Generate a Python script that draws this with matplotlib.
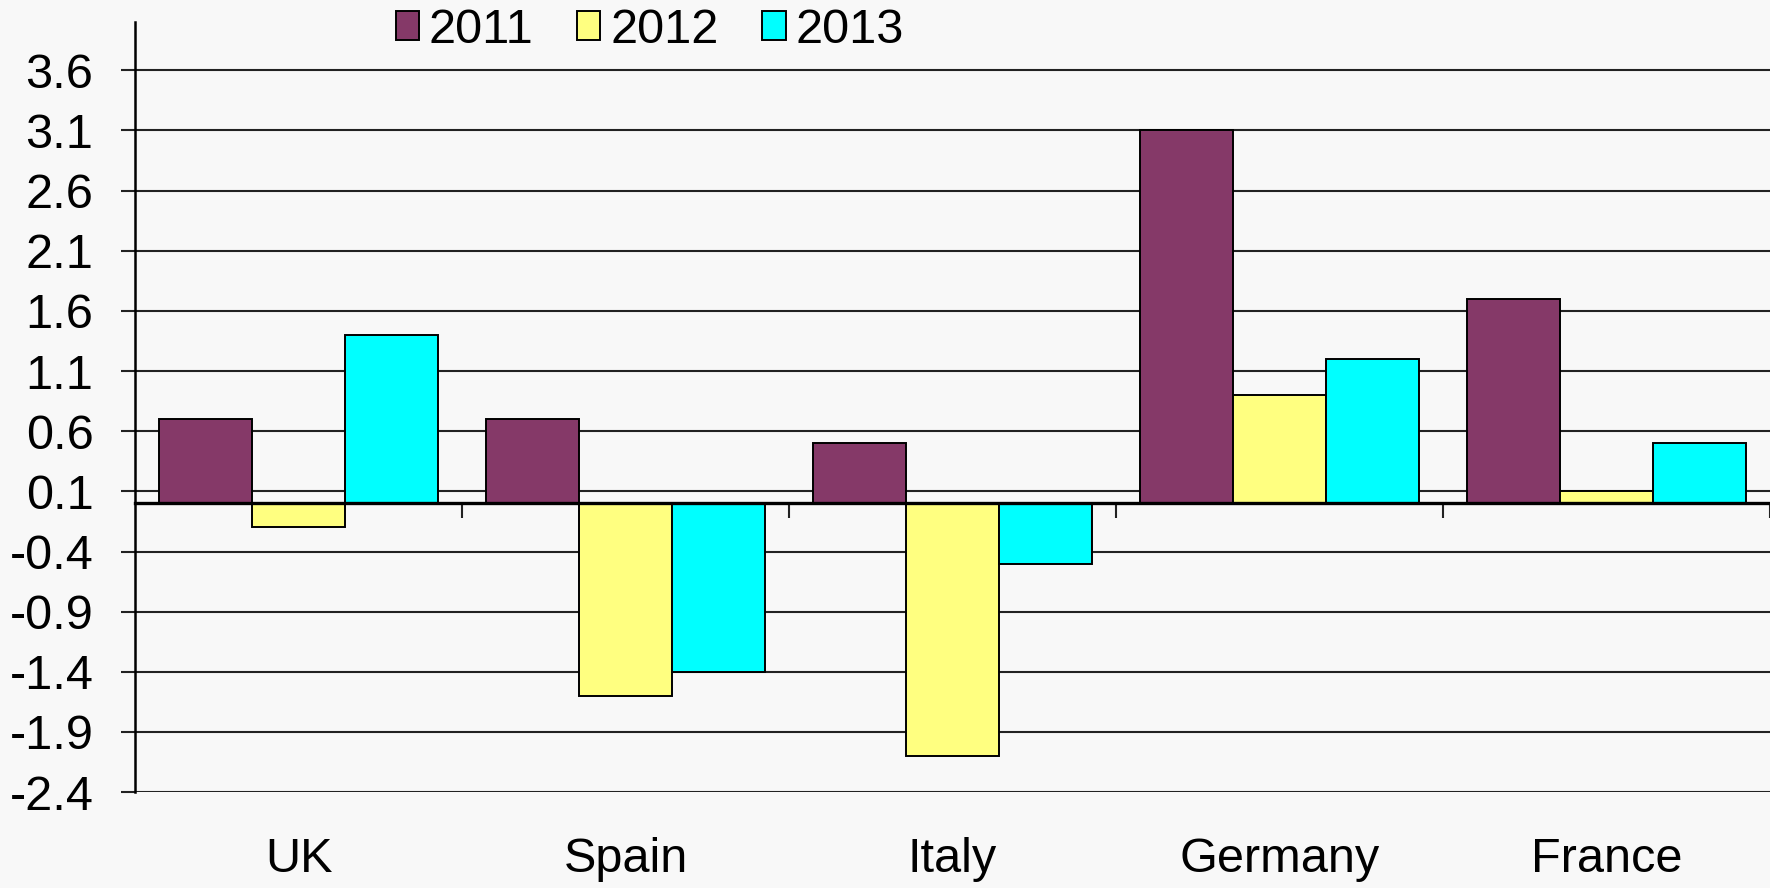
import numpy as np
import matplotlib
matplotlib.use('Agg')
import matplotlib.pyplot as plt
from matplotlib.patches import Patch

# data
countries = ['UK', 'Spain', 'Italy', 'Germany', 'France']
years = ['2011', '2012', '2013']
v2011 = [0.7, 0.7, 0.5, 3.1, 1.7]
v2012 = [-0.2, -1.6, -2.1, 0.9, 0.1]
v2013 = [1.4, -1.4, -0.5, 1.2, 0.5]
yticks = [-2.4, -1.9, -1.4, -0.9, -0.4, 0.1, 0.6, 1.1, 1.6, 2.1, 2.6, 3.1, 3.6]

colors = ['#853968', '#ffff80', '#00ffff']
bg = '#f8f8f8'

plt.rcParams['font.family'] = ['Liberation Sans Narrow', 'Liberation Sans', 'DejaVu Sans']
fs = 35

fig = plt.figure(figsize=(17.7, 8.88), dpi=100, facecolor=bg)
ax = fig.add_axes([0.0763, 0.108, 0.9237, 0.867], facecolor=bg)

x = np.arange(len(countries))
w = 0.284
for i, vals in enumerate([v2011, v2012, v2013]):
    ax.bar(x + (i - 1) * w, vals, width=w, color=colors[i],
           edgecolor='black', linewidth=1.4, zorder=3)

ax.set_xlim(-0.5, 4.5)
ax.set_ylim(-2.4, 4.0)

# y axis: ticks + gridlines
ax.set_yticks(yticks)
ax.set_yticklabels([f'{t:.1f}' for t in yticks], fontsize=fs)
ax.yaxis.grid(True, color='#222222', linewidth=1.5, zorder=0)
ax.tick_params(axis='y', direction='out', length=10, width=1.5,
               color='#222222', pad=20)

# x axis at zero, category boundary ticks
ax.spines['bottom'].set_position(('data', 0))
ax.spines['bottom'].set_linewidth(2.4)
ax.spines['bottom'].set_zorder(4)
ax.spines['left'].set_linewidth(1.8)
ax.spines['top'].set_visible(False)
ax.spines['right'].set_visible(False)
ax.set_xticks(x + 0.5)
ax.set_xticklabels([])
ax.tick_params(axis='x', direction='out', length=11, width=1.5, color='#222222')

for xi, name in zip(x, countries):
    ax.text(xi, -0.088, name, transform=ax.get_xaxis_transform(),
            ha='center', va='center', fontsize=fs)

handles = [Patch(facecolor=c, edgecolor='black', linewidth=1.4) for c in colors]
fig.legend(handles, years, loc='center', bbox_to_anchor=(0.367, 0.966), ncol=3,
           frameon=False, fontsize=fs, handlelength=0.48, handleheight=0.57,
           handletextpad=0.2, columnspacing=0.9, borderaxespad=0, borderpad=0)

fig.savefig('out.png', dpi=100, facecolor=bg)
